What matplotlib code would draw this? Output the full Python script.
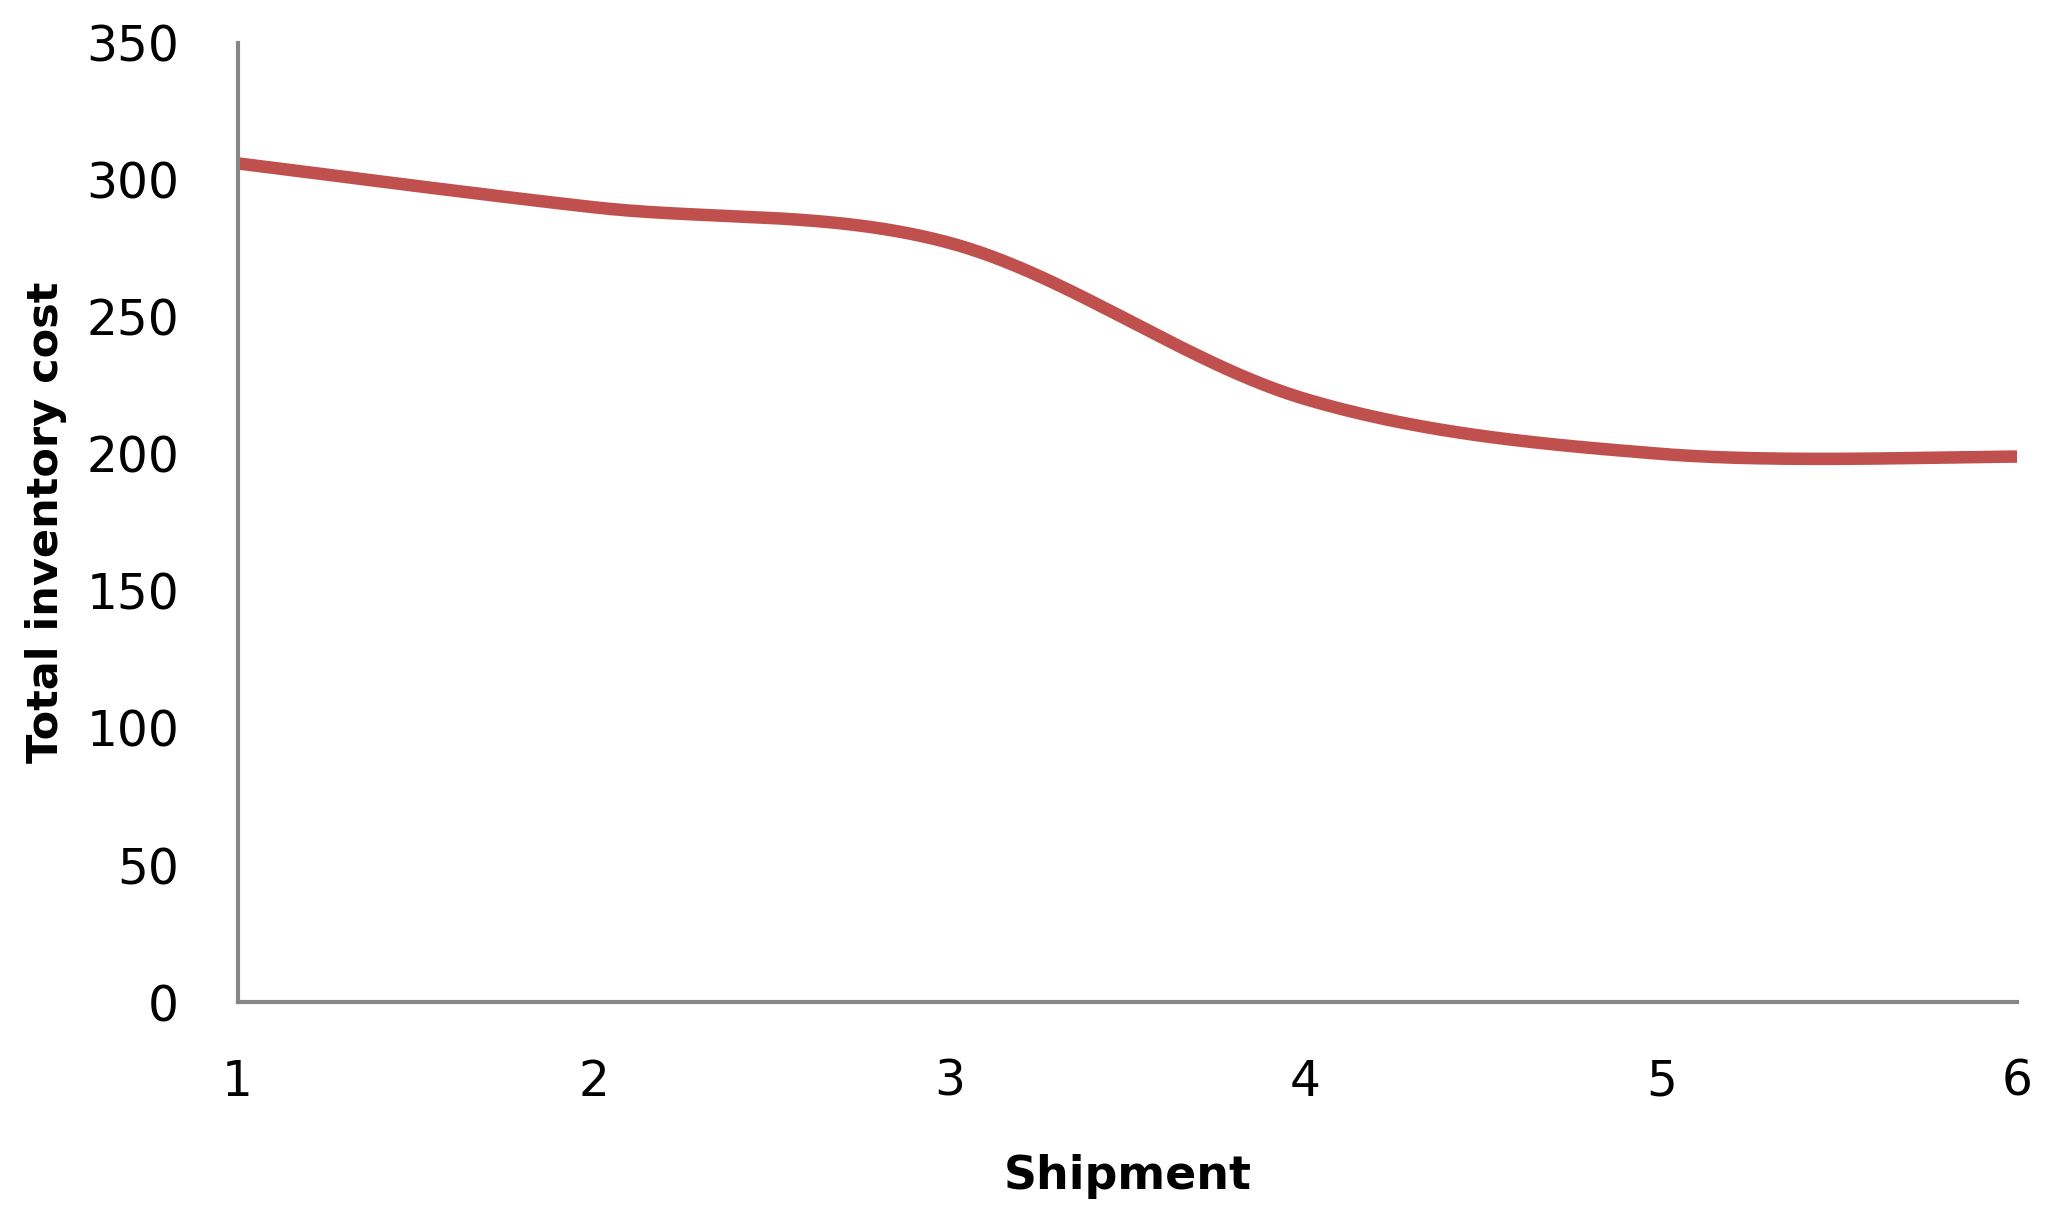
import matplotlib
matplotlib.use("Agg")
import matplotlib.pyplot as plt
import numpy as np

# data
shipment = [1, 2, 3, 4, 5, 6]
total_cost = [306, 290, 277, 220, 200, 199]


def smooth_line(x, y, n=60):
    # Excel style smoothed line: cubic Bezier with Catmull-Rom control points
    x = np.asarray(x, float)
    y = np.asarray(y, float)
    px = np.concatenate([[x[0]], x, [x[-1]]])
    py = np.concatenate([[y[0]], y, [y[-1]]])
    t = np.linspace(0, 1, n)
    xs, ys = [], []
    for i in range(1, len(px) - 2):
        p0 = np.array([px[i], py[i]])
        p3 = np.array([px[i + 1], py[i + 1]])
        c1 = p0 + (np.array([px[i + 1], py[i + 1]]) - np.array([px[i - 1], py[i - 1]])) / 6
        c2 = p3 - (np.array([px[i + 2], py[i + 2]]) - np.array([px[i], py[i]])) / 6
        b = ((1 - t) ** 3)[:, None] * p0 + (3 * (1 - t) ** 2 * t)[:, None] * c1 \
            + (3 * (1 - t) * t ** 2)[:, None] * c2 + (t ** 3)[:, None] * p3
        xs.append(b[:, 0])
        ys.append(b[:, 1])
    return np.concatenate(xs), np.concatenate(ys)


fig = plt.figure(figsize=(20.48, 12.22), dpi=100)
ax = fig.add_axes([0.116, 0.180, 0.869, 0.785])

sx, sy = smooth_line(shipment, total_cost)
ax.plot(sx, sy, color="#C0504D", linewidth=9, solid_capstyle="butt")

ax.set_xlim(1, 6)
ax.set_ylim(0, 350)
ax.set_xticks(shipment)
ax.set_yticks(np.arange(0, 351, 50))

for s in ["top", "right"]:
    ax.spines[s].set_visible(False)
for s in ["left", "bottom"]:
    ax.spines[s].set_color("#868686")
    ax.spines[s].set_linewidth(3)

ax.tick_params(axis="both", length=0, labelsize=35, colors="black")
ax.tick_params(axis="y", pad=42)
ax.tick_params(axis="x", pad=40)

ax.set_xlabel("Shipment", fontsize=33, fontweight="bold", labelpad=35)
ax.set_ylabel("Total inventory cost", fontsize=31, fontweight="bold", labelpad=14)

fig.savefig("out.png", dpi=100, facecolor="white")
